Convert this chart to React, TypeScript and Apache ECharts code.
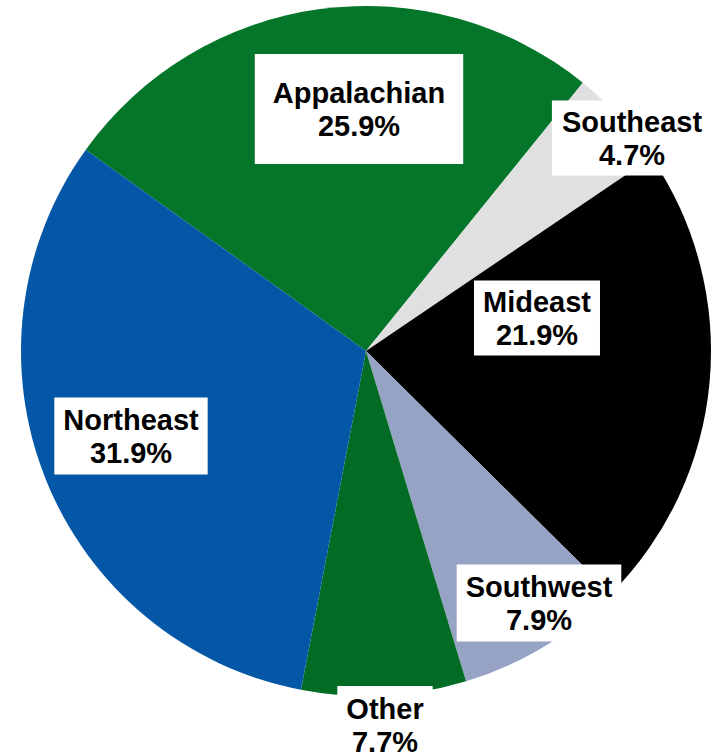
import React, { useEffect, useRef } from "react";
import * as echarts from "echarts";

const regions = ["Appalachian", "Southeast", "Mideast", "Southwest", "Other", "Northeast"];
const shares = [25.9, 4.7, 21.9, 7.9, 7.7, 31.9];
const sliceColors = ["#04762a", "#e0e0e0", "#000000", "#97a3c4", "#036c24", "#0457a6"];

// label box centres (px) and paddings [top, right, bottom, left]
const labelCenters = [
  [359, 109],
  [632, 138],
  [537, 318],
  [539, 603],
  [385, 725],
  [131, 436],
];
const labelPaddings = [
  [22, 18, 22, 18],
  [5, 10, 4, 10],
  [5, 9, 4, 9],
  [6, 9, 5, 9],
  [7, 9, 5, 9],
  [6, 9, 5, 9],
];

export default function App() {
  const ref = useRef<HTMLDivElement>(null);
  useEffect(() => {
    if (!ref.current) return;
    const chart = echarts.init(ref.current, null, { renderer: "svg" });
    chart.setOption({
      animation: false,
      backgroundColor: "#ffffff",
      series: [
        {
          type: "pie",
          center: [366, 351],
          radius: 345,
          startAngle: 144.3,
          clockwise: true,
          avoidLabelOverlap: false,
          emphasis: { disabled: true },
          itemStyle: { borderWidth: 0 },
          labelLine: { show: false },
          label: {
            show: true,
            position: "inside",
            formatter: (p: any) => `${p.name}\n${Number(p.value).toFixed(1)}%`,
            color: "#000000",
            fontFamily: "'Liberation Sans', Arial, sans-serif",
            fontWeight: "bold",
            fontSize: 29,
            lineHeight: 33,
            align: "center",
            backgroundColor: "#ffffff",
          },
          labelLayout: (params: any) => {
            const c = labelCenters[params.dataIndex];
            return { x: c[0], y: c[1], align: "center", verticalAlign: "middle" };
          },
          data: regions.map((name, i) => ({
            name,
            value: shares[i],
            itemStyle: { color: sliceColors[i] },
            label: { padding: labelPaddings[i] },
          })),
        },
      ],
    });
    return () => chart.dispose();
  }, []);
  return (
    <div
      ref={ref}
      style={{ position: "fixed", left: 0, top: 0, width: 715, height: 753, background: "#fff" }}
    />
  );
}
